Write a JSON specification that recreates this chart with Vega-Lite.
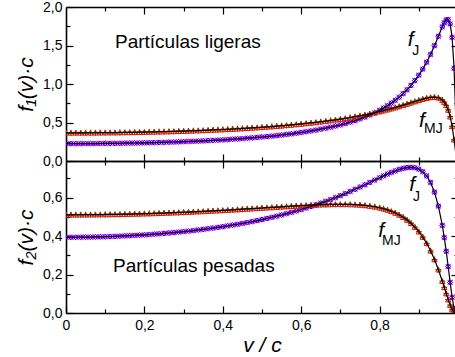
{
  "$schema": "https://vega.github.io/schema/vega-lite/v6.json",
  "padding": {"left": 15, "top": 0, "right": 0, "bottom": 0},
  "spacing": 0,
  "bounds": "flush",
  "datasets": {
    "top": [
      {"v": 0, "J": 0.2253, "MJ": 0.3658}, {"v": 0.0125, "J": 0.2253, "MJ": 0.3658}, {"v": 0.025, "J": 0.2254, "MJ": 0.3659},
      {"v": 0.0375, "J": 0.2257, "MJ": 0.3661}, {"v": 0.05, "J": 0.2259, "MJ": 0.3664}, {"v": 0.0625, "J": 0.2263, "MJ": 0.3667},
      {"v": 0.075, "J": 0.2268, "MJ": 0.3671}, {"v": 0.0875, "J": 0.2273, "MJ": 0.3676}, {"v": 0.1, "J": 0.2279, "MJ": 0.3682},
      {"v": 0.1125, "J": 0.2286, "MJ": 0.3688}, {"v": 0.125, "J": 0.2294, "MJ": 0.3696}, {"v": 0.1375, "J": 0.2303, "MJ": 0.3704},
      {"v": 0.15, "J": 0.2313, "MJ": 0.3713}, {"v": 0.1625, "J": 0.2323, "MJ": 0.3722}, {"v": 0.175, "J": 0.2335, "MJ": 0.3732},
      {"v": 0.1875, "J": 0.2348, "MJ": 0.3744}, {"v": 0.2, "J": 0.2361, "MJ": 0.3756}, {"v": 0.2125, "J": 0.2376, "MJ": 0.3769},
      {"v": 0.225, "J": 0.2392, "MJ": 0.3783}, {"v": 0.2375, "J": 0.2408, "MJ": 0.3798}, {"v": 0.25, "J": 0.2426, "MJ": 0.3814},
      {"v": 0.2625, "J": 0.2445, "MJ": 0.3831}, {"v": 0.275, "J": 0.2466, "MJ": 0.3849}, {"v": 0.2875, "J": 0.2487, "MJ": 0.3868},
      {"v": 0.3, "J": 0.251, "MJ": 0.3888}, {"v": 0.3125, "J": 0.2534, "MJ": 0.3909}, {"v": 0.325, "J": 0.256, "MJ": 0.3931},
      {"v": 0.3375, "J": 0.2587, "MJ": 0.3954}, {"v": 0.35, "J": 0.2616, "MJ": 0.3979}, {"v": 0.3625, "J": 0.2646, "MJ": 0.4004},
      {"v": 0.375, "J": 0.2679, "MJ": 0.4031}, {"v": 0.3875, "J": 0.2712, "MJ": 0.406}, {"v": 0.4, "J": 0.2748, "MJ": 0.4089},
      {"v": 0.4125, "J": 0.2786, "MJ": 0.412}, {"v": 0.425, "J": 0.2826, "MJ": 0.4153}, {"v": 0.4375, "J": 0.2868, "MJ": 0.4187},
      {"v": 0.45, "J": 0.2913, "MJ": 0.4223}, {"v": 0.4625, "J": 0.296, "MJ": 0.426}, {"v": 0.475, "J": 0.3009, "MJ": 0.43},
      {"v": 0.4875, "J": 0.3062, "MJ": 0.434}, {"v": 0.5, "J": 0.3118, "MJ": 0.4383}, {"v": 0.5125, "J": 0.3176, "MJ": 0.4428},
      {"v": 0.525, "J": 0.3239, "MJ": 0.4476}, {"v": 0.5375, "J": 0.3305, "MJ": 0.4525}, {"v": 0.55, "J": 0.3375, "MJ": 0.4577},
      {"v": 0.5625, "J": 0.345, "MJ": 0.4631}, {"v": 0.575, "J": 0.3529, "MJ": 0.4688}, {"v": 0.5875, "J": 0.3613, "MJ": 0.4748},
      {"v": 0.6, "J": 0.3703, "MJ": 0.481}, {"v": 0.6125, "J": 0.3799, "MJ": 0.4876}, {"v": 0.625, "J": 0.3902, "MJ": 0.4945},
      {"v": 0.6375, "J": 0.4011, "MJ": 0.5017}, {"v": 0.65, "J": 0.4129, "MJ": 0.5094}, {"v": 0.6625, "J": 0.4254, "MJ": 0.5174},
      {"v": 0.675, "J": 0.439, "MJ": 0.5259}, {"v": 0.6875, "J": 0.4536, "MJ": 0.5348}, {"v": 0.7, "J": 0.4694, "MJ": 0.5442},
      {"v": 0.7125, "J": 0.4864, "MJ": 0.5541}, {"v": 0.725, "J": 0.5049, "MJ": 0.5646}, {"v": 0.7375, "J": 0.525, "MJ": 0.5757},
      {"v": 0.75, "J": 0.547, "MJ": 0.5874}, {"v": 0.7625, "J": 0.571, "MJ": 0.5998}, {"v": 0.775, "J": 0.5974, "MJ": 0.6129},
      {"v": 0.7875, "J": 0.6264, "MJ": 0.6268}, {"v": 0.8, "J": 0.6586, "MJ": 0.6416}, {"v": 0.81, "J": 0.6868, "MJ": 0.654},
      {"v": 0.82, "J": 0.7177, "MJ": 0.667}, {"v": 0.83, "J": 0.7514, "MJ": 0.6805}, {"v": 0.84, "J": 0.7885, "MJ": 0.6947},
      {"v": 0.85, "J": 0.8294, "MJ": 0.7094}, {"v": 0.86, "J": 0.8746, "MJ": 0.7247}, {"v": 0.87, "J": 0.9249, "MJ": 0.7404},
      {"v": 0.88, "J": 0.981, "MJ": 0.7565}, {"v": 0.89, "J": 1.0437, "MJ": 0.7727}, {"v": 0.9, "J": 1.1143, "MJ": 0.7886},
      {"v": 0.91, "J": 1.1938, "MJ": 0.8036}, {"v": 0.92, "J": 1.2836, "MJ": 0.8168}, {"v": 0.93, "J": 1.3848, "MJ": 0.8264},
      {"v": 0.94, "J": 1.4977, "MJ": 0.8296}, {"v": 0.95, "J": 1.62, "MJ": 0.8213}, {"v": 0.96, "J": 1.7422, "MJ": 0.792},
      {"v": 0.965, "J": 1.7948, "MJ": 0.7642}, {"v": 0.97, "J": 1.8317, "MJ": 0.7229}, {"v": 0.975, "J": 1.8369, "MJ": 0.6627},
      {"v": 0.98, "J": 1.7808, "MJ": 0.5753}, {"v": 0.985, "J": 1.6059, "MJ": 0.4499}, {"v": 0.99, "J": 1.2045, "MJ": 0.2759},
      {"v": 0.995, "J": 0.4518, "MJ": 0.0733}, {"v": 1, "J": 0, "MJ": 0}
    ],
    "bot": [
      {"v": 0, "J": 0.3935, "MJ": 0.5105}, {"v": 0.0125, "J": 0.3935, "MJ": 0.5105}, {"v": 0.025, "J": 0.3937, "MJ": 0.5106},
      {"v": 0.0375, "J": 0.3939, "MJ": 0.5107}, {"v": 0.05, "J": 0.3943, "MJ": 0.5109}, {"v": 0.0625, "J": 0.3947, "MJ": 0.511},
      {"v": 0.075, "J": 0.3952, "MJ": 0.5113}, {"v": 0.0875, "J": 0.3959, "MJ": 0.5116}, {"v": 0.1, "J": 0.3966, "MJ": 0.512},
      {"v": 0.1125, "J": 0.3975, "MJ": 0.5123}, {"v": 0.125, "J": 0.3984, "MJ": 0.5128}, {"v": 0.1375, "J": 0.3994, "MJ": 0.5132},
      {"v": 0.15, "J": 0.4006, "MJ": 0.5138}, {"v": 0.1625, "J": 0.4018, "MJ": 0.5143}, {"v": 0.175, "J": 0.4032, "MJ": 0.515},
      {"v": 0.1875, "J": 0.4046, "MJ": 0.5156}, {"v": 0.2, "J": 0.4062, "MJ": 0.5163}, {"v": 0.2125, "J": 0.4079, "MJ": 0.517},
      {"v": 0.225, "J": 0.4097, "MJ": 0.5179}, {"v": 0.2375, "J": 0.4116, "MJ": 0.5187}, {"v": 0.25, "J": 0.4137, "MJ": 0.5196},
      {"v": 0.2625, "J": 0.4158, "MJ": 0.5205}, {"v": 0.275, "J": 0.4181, "MJ": 0.5215}, {"v": 0.2875, "J": 0.4205, "MJ": 0.5225},
      {"v": 0.3, "J": 0.4231, "MJ": 0.5236}, {"v": 0.3125, "J": 0.4258, "MJ": 0.5247}, {"v": 0.325, "J": 0.4286, "MJ": 0.5258},
      {"v": 0.3375, "J": 0.4316, "MJ": 0.527}, {"v": 0.35, "J": 0.4347, "MJ": 0.5282}, {"v": 0.3625, "J": 0.438, "MJ": 0.5295},
      {"v": 0.375, "J": 0.4414, "MJ": 0.5308}, {"v": 0.3875, "J": 0.445, "MJ": 0.5322}, {"v": 0.4, "J": 0.4488, "MJ": 0.5336},
      {"v": 0.4125, "J": 0.4527, "MJ": 0.535}, {"v": 0.425, "J": 0.4568, "MJ": 0.5364}, {"v": 0.4375, "J": 0.4611, "MJ": 0.5379},
      {"v": 0.45, "J": 0.4656, "MJ": 0.5394}, {"v": 0.4625, "J": 0.4703, "MJ": 0.5409}, {"v": 0.475, "J": 0.4752, "MJ": 0.5425},
      {"v": 0.4875, "J": 0.4804, "MJ": 0.5441}, {"v": 0.5, "J": 0.4857, "MJ": 0.5457}, {"v": 0.5125, "J": 0.4913, "MJ": 0.5473},
      {"v": 0.525, "J": 0.4971, "MJ": 0.5488}, {"v": 0.5375, "J": 0.5032, "MJ": 0.5504}, {"v": 0.55, "J": 0.5095, "MJ": 0.552},
      {"v": 0.5625, "J": 0.5162, "MJ": 0.5536}, {"v": 0.575, "J": 0.5231, "MJ": 0.5551}, {"v": 0.5875, "J": 0.5303, "MJ": 0.5566},
      {"v": 0.6, "J": 0.5377, "MJ": 0.5581}, {"v": 0.6125, "J": 0.5456, "MJ": 0.5594}, {"v": 0.625, "J": 0.5537, "MJ": 0.5607},
      {"v": 0.6375, "J": 0.5622, "MJ": 0.5618}, {"v": 0.65, "J": 0.571, "MJ": 0.5629}, {"v": 0.6625, "J": 0.5802, "MJ": 0.5637},
      {"v": 0.675, "J": 0.5897, "MJ": 0.5644}, {"v": 0.6875, "J": 0.5996, "MJ": 0.5649}, {"v": 0.7, "J": 0.6099, "MJ": 0.565},
      {"v": 0.7125, "J": 0.6205, "MJ": 0.5648}, {"v": 0.725, "J": 0.6315, "MJ": 0.5642}, {"v": 0.7375, "J": 0.6429, "MJ": 0.5632},
      {"v": 0.75, "J": 0.6545, "MJ": 0.5616}, {"v": 0.7625, "J": 0.6664, "MJ": 0.5593}, {"v": 0.775, "J": 0.6785, "MJ": 0.5562},
      {"v": 0.7875, "J": 0.6907, "MJ": 0.5522}, {"v": 0.8, "J": 0.7029, "MJ": 0.5471}, {"v": 0.81, "J": 0.7125, "MJ": 0.542},
      {"v": 0.82, "J": 0.7218, "MJ": 0.5359}, {"v": 0.83, "J": 0.7306, "MJ": 0.5286}, {"v": 0.84, "J": 0.7388, "MJ": 0.52},
      {"v": 0.85, "J": 0.746, "MJ": 0.5098}, {"v": 0.86, "J": 0.7518, "MJ": 0.4977}, {"v": 0.87, "J": 0.7557, "MJ": 0.4834},
      {"v": 0.88, "J": 0.7571, "MJ": 0.4665}, {"v": 0.89, "J": 0.7549, "MJ": 0.4465}, {"v": 0.9, "J": 0.748, "MJ": 0.4229},
      {"v": 0.91, "J": 0.7346, "MJ": 0.3951}, {"v": 0.92, "J": 0.7124, "MJ": 0.3622}, {"v": 0.93, "J": 0.6783, "MJ": 0.3234},
      {"v": 0.94, "J": 0.628, "MJ": 0.2779}, {"v": 0.95, "J": 0.5558, "MJ": 0.2251}, {"v": 0.96, "J": 0.4551, "MJ": 0.1653},
      {"v": 0.965, "J": 0.3922, "MJ": 0.1334}, {"v": 0.97, "J": 0.3206, "MJ": 0.1011}, {"v": 0.975, "J": 0.2415, "MJ": 0.0696},
      {"v": 0.98, "J": 0.1589, "MJ": 0.041}, {"v": 0.985, "J": 0.0811, "MJ": 0.0182}, {"v": 0.99, "J": 0.0234, "MJ": 0.0043},
      {"v": 0.995, "J": 0.001, "MJ": 0}, {"v": 1, "J": 0, "MJ": 0}
    ]
  },
  "vconcat": [
    {
      "width": 392, "height": 154,
      "data": {"name": "top"},
      "layer": [
        {"transform": [{"filter": "datum.v <= 0.99"}],
         "mark": {"type": "point", "shape": "M-1,-1L1,1M-1,1L1,-1", "filled": false, "color": "#ff00ff", "size": 24, "strokeWidth": 1.2, "clip": true, "opacity": 1},
         "encoding": {
           "x": {"field": "v", "type": "quantitative", "axis": {"orient": "top", "values": [0.1, 0.3, 0.5, 0.7, 0.9], "labels": false, "tickSize": -4, "title": null, "domain": false}},
           "y": {"field": "J", "type": "quantitative", "axis": {"orient": "right", "values": [0.25, 0.75, 1.25, 1.75], "labels": false, "tickSize": -4, "title": null, "domain": false}}}},
        {"transform": [{"filter": "datum.v <= 0.99"}],
         "mark": {"type": "point", "shape": "diamond", "filled": false, "color": "#0000ff", "size": 26, "strokeWidth": 1, "clip": true, "opacity": 1},
         "encoding": {
           "x": {"field": "v", "type": "quantitative", "axis": {"orient": "top", "values": [0.2, 0.4, 0.6, 0.8], "labels": false, "tickSize": -7, "title": null, "domain": true}},
           "y": {"field": "J", "type": "quantitative", "axis": {"orient": "right", "values": [0.5, 1, 1.5], "labels": false, "tickSize": -7, "title": null, "domain": true}}}},
        {"transform": [{"filter": "datum.v <= 0.99"}],
         "mark": {"type": "point", "shape": "M-1,0L1,0M0,-1L0,1", "filled": false, "color": "#008000", "size": 34, "strokeWidth": 1.3, "clip": true, "opacity": 1},
         "encoding": {
           "x": {"field": "v", "type": "quantitative", "axis": null},
           "y": {"field": "MJ", "type": "quantitative", "axis": null}}},
        {"transform": [{"filter": "datum.v <= 0.99"}],
         "mark": {"type": "point", "shape": "triangle-up", "filled": false, "color": "#ff0000", "size": 28, "strokeWidth": 1, "clip": true, "opacity": 1},
         "encoding": {
           "x": {"field": "v", "type": "quantitative", "axis": null},
           "y": {"field": "MJ", "type": "quantitative", "axis": null}}},
        {"mark": {"type": "line", "color": "#000000", "strokeWidth": 1.2, "clip": true},
         "encoding": {
           "x": {"field": "v", "type": "quantitative", "scale": {"domain": [0, 1], "nice": false, "zero": false},
                 "axis": {"values": [0.2, 0.4, 0.6, 0.8], "labels": false, "tickSize": -7, "title": null, "domain": true}},
           "y": {"field": "J", "type": "quantitative", "scale": {"domain": [0, 2], "nice": false, "zero": false},
                 "axis": {"values": [0, 0.5, 1, 1.5, 2], "tickSize": -7, "labelPadding": 11, "labelExpr": "replace(format(datum.value, '.1f'), '.', ',')", "title": "f₁(v)·c", "titlePadding": 6}}}},
        {"mark": {"type": "line", "color": "#000000", "strokeWidth": 1.2, "clip": true},
         "encoding": {
           "x": {"field": "v", "type": "quantitative", "axis": {"values": [0.1, 0.3, 0.5, 0.7, 0.9], "labels": false, "tickSize": -4, "title": null, "domain": false}},
           "y": {"field": "MJ", "type": "quantitative", "axis": {"values": [0.25, 0.75, 1.25, 1.75], "labels": false, "tickSize": -4, "title": null, "domain": false}}}},
        {"data": {"values": [{}]},
         "mark": {"type": "text", "text": "Partículas ligeras", "align": "left", "baseline": "middle", "font": "Liberation Sans", "fontSize": 19, "color": "#000000"},
         "encoding": {"x": {"datum": 0.125, "type": "quantitative", "axis": null}, "y": {"datum": 1.545, "type": "quantitative", "axis": null}}},
        {"data": {"values": [{}]},
         "mark": {"type": "text", "text": "f", "align": "center", "baseline": "middle", "font": "Liberation Sans", "fontStyle": "italic", "fontSize": 21, "color": "#000000"},
         "encoding": {"x": {"datum": 0.879, "type": "quantitative", "axis": null}, "y": {"datum": 1.575, "type": "quantitative", "axis": null}}},
        {"data": {"values": [{}]},
         "mark": {"type": "text", "text": "J", "align": "center", "baseline": "middle", "font": "Liberation Sans", "fontSize": 14, "color": "#000000"},
         "encoding": {"x": {"datum": 0.892, "type": "quantitative", "axis": null}, "y": {"datum": 1.43, "type": "quantitative", "axis": null}}},
        {"data": {"values": [{}]},
         "mark": {"type": "text", "text": "f", "align": "center", "baseline": "middle", "font": "Liberation Sans", "fontStyle": "italic", "fontSize": 21, "color": "#000000"},
         "encoding": {"x": {"datum": 0.908, "type": "quantitative", "axis": null}, "y": {"datum": 0.525, "type": "quantitative", "axis": null}}},
        {"data": {"values": [{}]},
         "mark": {"type": "text", "text": "MJ", "align": "center", "baseline": "middle", "font": "Liberation Sans", "fontSize": 14, "color": "#000000"},
         "encoding": {"x": {"datum": 0.937, "type": "quantitative", "axis": null}, "y": {"datum": 0.41, "type": "quantitative", "axis": null}}}
      ],
      "resolve": {"axis": {"x": "independent", "y": "independent"}}
    },
    {
      "width": 392, "height": 152,
      "data": {"name": "bot"},
      "layer": [
        {"transform": [{"filter": "datum.v <= 0.99"}],
         "mark": {"type": "point", "shape": "M-1,-1L1,1M-1,1L1,-1", "filled": false, "color": "#ff00ff", "size": 24, "strokeWidth": 1.2, "clip": true, "opacity": 1},
         "encoding": {
           "x": {"field": "v", "type": "quantitative", "axis": {"orient": "top", "values": [0.1, 0.3, 0.5, 0.7, 0.9], "labels": false, "tickSize": -4, "title": null, "domain": false}},
           "y": {"field": "J", "type": "quantitative", "axis": {"orient": "right", "values": [0.1, 0.3, 0.5, 0.7], "labels": false, "tickSize": -4, "title": null, "domain": false}}}},
        {"transform": [{"filter": "datum.v <= 0.99"}],
         "mark": {"type": "point", "shape": "diamond", "filled": false, "color": "#0000ff", "size": 26, "strokeWidth": 1, "clip": true, "opacity": 1},
         "encoding": {
           "x": {"field": "v", "type": "quantitative", "axis": {"orient": "top", "values": [0.2, 0.4, 0.6, 0.8], "labels": false, "tickSize": -7, "title": null, "domain": true}},
           "y": {"field": "J", "type": "quantitative", "axis": {"orient": "right", "values": [0.2, 0.4, 0.6], "labels": false, "tickSize": -7, "title": null, "domain": true}}}},
        {"transform": [{"filter": "datum.v <= 0.99"}],
         "mark": {"type": "point", "shape": "M-1,0L1,0M0,-1L0,1", "filled": false, "color": "#008000", "size": 34, "strokeWidth": 1.3, "clip": true, "opacity": 1},
         "encoding": {
           "x": {"field": "v", "type": "quantitative", "axis": null},
           "y": {"field": "MJ", "type": "quantitative", "axis": null}}},
        {"transform": [{"filter": "datum.v <= 0.99"}],
         "mark": {"type": "point", "shape": "triangle-up", "filled": false, "color": "#ff0000", "size": 28, "strokeWidth": 1, "clip": true, "opacity": 1},
         "encoding": {
           "x": {"field": "v", "type": "quantitative", "axis": null},
           "y": {"field": "MJ", "type": "quantitative", "axis": null}}},
        {"mark": {"type": "line", "color": "#000000", "strokeWidth": 1.2, "clip": true},
         "encoding": {
           "x": {"field": "v", "type": "quantitative", "scale": {"domain": [0, 1], "nice": false, "zero": false},
                 "axis": {"values": [0, 0.2, 0.4, 0.6, 0.8], "tickSize": -7, "labelPadding": 12, "labelExpr": "datum.value == 0 ? '0' : replace(format(datum.value, '.1f'), '.', ',')", "title": "v / c", "titlePadding": 2, "domain": true}},
           "y": {"field": "J", "type": "quantitative", "scale": {"domain": [0, 0.79], "nice": false, "zero": false},
                 "axis": {"values": [0, 0.2, 0.4, 0.6], "tickSize": -7, "labelPadding": 11, "labelExpr": "replace(format(datum.value, '.1f'), '.', ',')", "title": "f₂(v)·c", "titlePadding": 6}}}},
        {"mark": {"type": "line", "color": "#000000", "strokeWidth": 1.2, "clip": true},
         "encoding": {
           "x": {"field": "v", "type": "quantitative", "axis": {"values": [0.1, 0.3, 0.5, 0.7, 0.9], "labels": false, "tickSize": -4, "title": null, "domain": false}},
           "y": {"field": "MJ", "type": "quantitative", "axis": {"values": [0.1, 0.3, 0.5, 0.7], "labels": false, "tickSize": -4, "title": null, "domain": false}}}},
        {"data": {"values": [{}]},
         "mark": {"type": "text", "text": "Partículas pesadas", "align": "left", "baseline": "middle", "font": "Liberation Sans", "fontSize": 19, "color": "#000000"},
         "encoding": {"x": {"datum": 0.12, "type": "quantitative", "axis": null}, "y": {"datum": 0.244, "type": "quantitative", "axis": null}}},
        {"data": {"values": [{}]},
         "mark": {"type": "text", "text": "f", "align": "center", "baseline": "middle", "font": "Liberation Sans", "fontStyle": "italic", "fontSize": 21, "color": "#000000"},
         "encoding": {"x": {"datum": 0.883, "type": "quantitative", "axis": null}, "y": {"datum": 0.667, "type": "quantitative", "axis": null}}},
        {"data": {"values": [{}]},
         "mark": {"type": "text", "text": "J", "align": "center", "baseline": "middle", "font": "Liberation Sans", "fontSize": 14, "color": "#000000"},
         "encoding": {"x": {"datum": 0.894, "type": "quantitative", "axis": null}, "y": {"datum": 0.602, "type": "quantitative", "axis": null}}},
        {"data": {"values": [{}]},
         "mark": {"type": "text", "text": "f", "align": "center", "baseline": "middle", "font": "Liberation Sans", "fontStyle": "italic", "fontSize": 21, "color": "#000000"},
         "encoding": {"x": {"datum": 0.804, "type": "quantitative", "axis": null}, "y": {"datum": 0.428, "type": "quantitative", "axis": null}}},
        {"data": {"values": [{}]},
         "mark": {"type": "text", "text": "MJ", "align": "center", "baseline": "middle", "font": "Liberation Sans", "fontSize": 14, "color": "#000000"},
         "encoding": {"x": {"datum": 0.83, "type": "quantitative", "axis": null}, "y": {"datum": 0.373, "type": "quantitative", "axis": null}}}
      ],
      "resolve": {"axis": {"x": "independent", "y": "independent"}}
    }
  ],
  "config": {
    "view": {"stroke": null},
    "concat": {"spacing": 0},
    "axis": {
      "labelFont": "Liberation Sans", "labelFontSize": 14, "labelColor": "#000000",
      "titleFont": "Liberation Sans", "titleFontSize": 21, "titleFontWeight": "normal", "titleFontStyle": "italic", "titleColor": "#000000",
      "domainColor": "#000000", "domainWidth": 1.6, "tickColor": "#000000", "tickWidth": 1.2,
      "grid": false, "labelFlush": false, "labelOverlap": false, "labelBound": false
    }
  }
}
